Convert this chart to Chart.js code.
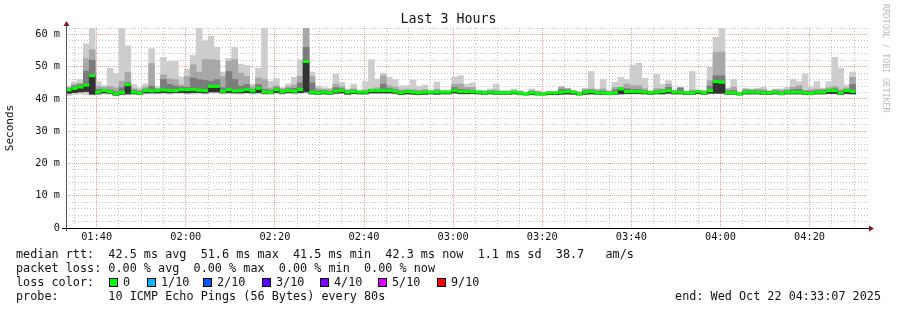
<!DOCTYPE html>
<html>
<head>
<meta charset="utf-8">
<title>Last 3 Hours</title>
<script src="https://cdn.jsdelivr.net/npm/chart.js@4.4.1/dist/chart.umd.min.js"></script>
<style>
  body { margin: 0; background: #fff; }
  #wrap { position: relative; width: 897px; height: 310px; font-family: "DejaVu Sans Mono", monospace; color: #111; }
  #chart { position: absolute; left: 0; top: 0; }
  #title { position: absolute; left: 0; top: 11px; width: 897px; text-align: center; font-size: 13.3px; line-height: 16px; }
  #rrd { position: absolute; left: 881px; top: 4px; writing-mode: vertical-rl; font-size: 8.2px; color: #bbb; }
  .line { position: absolute; left: 16px; font-size: 11.8px; line-height: 14px; white-space: pre; }
  .box { position: absolute; top: 278px; width: 7px; height: 7px; border: 1px solid #000; }
  .lbl { position: absolute; top: 275px; font-size: 11.8px; line-height: 14px; white-space: pre; }
</style>
</head>
<body>
<div id="wrap">
  <canvas id="chart" width="897" height="310"></canvas>
  <div id="title">Last 3 Hours</div>
  <div id="rrd">RRDTOOL / TOBI OETIKER</div>
  <div class="line" style="top:247px">median rtt:  42.5 ms avg  51.6 ms max  41.5 ms min  42.3 ms now  1.1 ms sd  38.7   am/s</div>
  <div class="line" style="top:261px">packet loss: 0.00 % avg  0.00 % max  0.00 % min  0.00 % now</div>
  <div class="line" style="top:275px">loss color:</div>
  <span class="box" style="left:109px;background:#00ff00"></span><span class="lbl" style="left:123px">0</span>
  <span class="box" style="left:147px;background:#00b8ff"></span><span class="lbl" style="left:161px">1/10</span>
  <span class="box" style="left:203px;background:#0059ff"></span><span class="lbl" style="left:217px">2/10</span>
  <span class="box" style="left:262px;background:#5e00ff"></span><span class="lbl" style="left:276px">3/10</span>
  <span class="box" style="left:320px;background:#7e00ff"></span><span class="lbl" style="left:334px">4/10</span>
  <span class="box" style="left:378px;background:#dd00ff"></span><span class="lbl" style="left:392px">5/10</span>
  <span class="box" style="left:437px;background:#ff0000"></span><span class="lbl" style="left:451px">9/10</span>
  <div class="line" style="top:289px">probe:       10 ICMP Echo Pings (56 Bytes) every 80s</div>
  <div class="line" style="top:289px;left:auto;right:16px">end: Wed Oct 22 04:33:07 2025</div>
</div>
<script>
// время в секундах от полуночи: окно 01:33:07 - 04:33:07, шаг 80 с
const startTime = 5587;
const endTime = 16387;
const firstBin = 5580;
const binStep = 80;

const tickLabels = ["01:40", "02:00", "02:20", "02:40", "03:00", "03:20", "03:40", "04:00", "04:20"];

// пинги в мс (10 пингов на интервал)
const minPing = [
  41.0, 41.3, 41.5, 41.3, 41.2, 41.2, 41.5, 41.4, 40.9, 41.2,
  41.3, 41.3, 41.2, 41.5, 41.5, 41.5, 41.6, 41.5, 41.6, 41.6,
  41.5, 41.5, 41.6, 41.5, 41.8, 41.8, 41.5, 41.6, 41.5, 41.5,
  41.6, 41.5, 41.6, 41.4, 41.4, 41.6, 41.4, 41.6, 41.5, 41.6,
  41.8, 41.4, 41.3, 41.4, 41.4, 41.5, 41.6, 41.3, 41.5, 41.4,
  41.4, 41.6, 41.6, 41.6, 41.6, 41.5, 41.2, 41.4, 41.3, 41.2,
  41.3, 41.4, 41.3, 41.4, 41.4, 41.6, 41.4, 41.4, 41.5, 41.4,
  41.3, 41.4, 41.3, 41.3, 41.3, 41.4, 41.2, 41.1, 41.2, 41.1,
  41.1, 41.2, 41.2, 41.3, 41.3, 41.3, 41.1, 41.3, 41.4, 41.3,
  41.3, 41.2, 41.3, 41.4, 41.5, 41.5, 41.5, 41.3, 41.3, 41.4,
  41.4, 41.5, 41.4, 41.4, 41.3, 41.3, 41.5, 41.3, 41.5, 41.6,
  41.6, 41.3, 41.3, 41.1, 41.4, 41.4, 41.4, 41.3, 41.3, 41.4,
  41.2, 41.4, 41.4, 41.4, 41.3, 41.2, 41.4, 41.4, 41.5, 41.5,
  41.2, 41.5, 41.4
];
const loPing = [
  41.8, 42.0, 42.2, 42.3, 41.5, 41.6, 41.9, 41.8, 41.2, 41.5,
  41.6, 41.6, 41.5, 41.9, 41.9, 41.9, 42.0, 41.9, 42.0, 42.0,
  41.9, 42.0, 42.0, 41.9, 42.2, 42.2, 41.9, 42.0, 41.9, 41.9,
  42.0, 41.9, 42.0, 41.8, 41.8, 42.0, 41.8, 42.0, 41.9, 42.0,
  42.2, 41.6, 41.5, 41.6, 41.5, 41.8, 41.9, 41.5, 41.7, 41.6,
  41.6, 41.9, 41.9, 41.9, 41.9, 41.8, 41.4, 41.6, 41.5, 41.4,
  41.5, 41.6, 41.5, 41.6, 41.6, 41.9, 41.7, 41.7, 41.7, 41.6,
  41.5, 41.6, 41.5, 41.5, 41.5, 41.6, 41.4, 41.3, 41.4, 41.3,
  41.3, 41.4, 41.4, 41.5, 41.6, 41.5, 41.3, 41.5, 41.6, 41.5,
  41.5, 41.4, 41.5, 41.6, 41.7, 41.7, 41.7, 41.6, 41.5, 41.6,
  41.6, 41.8, 41.6, 41.6, 41.5, 41.5, 41.7, 41.5, 41.8, 41.8,
  41.8, 41.5, 41.5, 41.3, 41.6, 41.6, 41.6, 41.5, 41.5, 41.6,
  41.4, 41.6, 41.6, 41.6, 41.5, 41.4, 41.6, 41.6, 41.7, 41.7,
  41.4, 41.7, 41.6
];
const medianRtt = [
  42.8, 43.3, 43.7, 44.3, 47.2, 42.1, 42.6, 42.3, 41.6, 42.0,
  44.4, 42.1, 41.8, 42.6, 42.5, 42.6, 42.8, 42.6, 42.6, 42.9,
  42.9, 42.9, 42.7, 42.6, 43.9, 43.9, 42.4, 42.9, 42.5, 42.6,
  42.9, 42.5, 43.3, 42.2, 42.1, 42.9, 42.3, 42.6, 42.4, 42.9,
  51.6, 42.1, 41.9, 42.1, 41.9, 42.4, 42.6, 42.1, 42.3, 42.1,
  42.1, 42.6, 42.6, 42.6, 42.6, 42.4, 41.9, 42.3, 42.1, 41.9,
  42.1, 42.1, 42.1, 42.1, 42.1, 42.6, 42.3, 42.3, 42.3, 42.1,
  41.9, 42.1, 41.9, 41.9, 41.9, 42.1, 41.8, 41.5, 41.9, 41.5,
  41.5, 41.9, 41.9, 42.1, 42.3, 42.1, 41.5, 42.1, 42.3, 41.9,
  41.9, 41.7, 41.9, 43.1, 42.3, 42.3, 42.3, 42.1, 41.9, 42.1,
  42.3, 42.6, 42.1, 42.1, 41.9, 41.9, 42.3, 41.9, 42.6, 45.4,
  45.2, 41.9, 41.9, 41.5, 42.1, 42.1, 42.1, 41.9, 41.9, 42.1,
  41.7, 42.1, 42.1, 42.1, 41.9, 41.7, 42.1, 42.1, 42.6, 42.6,
  41.8, 42.6, 42.3
];
const darkHi = [
  43.2, 44.0, 44.5, 48.6, 52.0, 43.0, 43.0, 42.8, 42.2, 43.5,
  45.0, 42.7, 42.3, 43.1, 44.0, 43.0, 46.0, 44.5, 44.0, 43.8,
  43.6, 46.5, 46.0, 45.8, 45.5, 46.0, 43.5, 48.5, 46.0, 44.0,
  44.5, 43.0, 44.5, 43.0, 42.7, 43.5, 42.8, 43.2, 43.3, 45.0,
  56.0, 45.0, 42.5, 42.6, 42.4, 43.5, 43.2, 42.5, 42.8, 42.3,
  42.4, 42.9, 43.0, 44.6, 43.2, 42.9, 42.4, 42.7, 42.5, 42.3,
  42.5, 42.3, 42.5, 42.3, 42.3, 43.6, 43.0, 42.9, 42.7, 42.3,
  42.2, 42.4, 42.3, 42.2, 42.1, 42.4, 42.1, 41.8, 42.3, 41.9,
  41.8, 42.0, 42.0, 43.0, 42.9, 42.3, 41.8, 42.6, 42.8, 42.4,
  42.5, 42.1, 42.8, 43.4, 43.2, 43.0, 43.0, 42.6, 42.2, 42.6,
  42.8, 43.6, 42.4, 43.3, 42.1, 42.4, 42.4, 42.2, 44.0, 47.2,
  47.2, 42.5, 42.6, 41.8, 42.6, 42.6, 42.6, 42.5, 42.2, 42.5,
  42.2, 42.6, 42.9, 43.0, 42.5, 42.3, 42.6, 42.6, 43.0, 43.2,
  42.4, 43.0, 44.5
];
const midHi = [
  43.6, 44.6, 44.8, 52.5, 55.3, 43.9, 43.6, 43.9, 43.4, 45.5,
  48.3, 43.2, 42.9, 43.7, 51.0, 43.3, 47.5, 46.2, 46.0, 44.3,
  47.0, 50.6, 48.3, 52.2, 52.2, 52.0, 47.0, 51.7, 52.2, 48.0,
  47.0, 43.8, 46.5, 46.0, 43.4, 44.1, 43.2, 43.8, 44.3, 47.0,
  62.0, 47.0, 43.2, 43.0, 42.9, 44.6, 43.8, 42.8, 43.1, 42.5,
  42.8, 43.1, 43.5, 47.2, 44.1, 43.6, 42.9, 43.0, 42.9, 42.7,
  42.9, 42.5, 43.0, 42.5, 42.5, 44.6, 44.6, 43.6, 43.6, 42.5,
  42.5, 42.8, 42.8, 42.4, 42.4, 42.6, 42.4, 42.0, 42.7, 42.3,
  42.0, 42.2, 42.2, 43.6, 43.2, 42.5, 42.1, 43.0, 43.1, 42.8,
  43.1, 42.4, 43.6, 43.6, 44.6, 44.1, 44.1, 43.2, 42.4, 43.2,
  43.1, 44.6, 42.6, 43.6, 42.3, 42.8, 42.5, 42.5, 45.7, 54.4,
  54.6, 43.0, 43.6, 42.1, 43.0, 42.9, 43.0, 42.9, 42.5, 42.9,
  42.8, 42.9, 43.6, 44.1, 42.6, 42.9, 43.1, 43.0, 43.5, 43.9,
  43.0, 43.4, 46.7
];
const maxPing = [
  43.9, 45.3, 46.0, 57.1, 62.0, 45.4, 44.2, 49.5, 48.0, 62.0,
  56.5, 44.5, 43.5, 44.7, 55.6, 43.8, 52.9, 51.6, 51.7, 46.8,
  49.3, 53.5, 62.0, 58.0, 59.5, 56.0, 48.3, 52.6, 56.0, 50.8,
  50.4, 44.6, 49.5, 62.0, 45.5, 46.3, 43.5, 44.7, 46.7, 52.2,
  62.0, 48.3, 43.9, 43.5, 43.3, 47.7, 45.2, 43.1, 44.6, 42.8,
  45.4, 52.2, 46.2, 48.0, 46.7, 46.0, 44.1, 44.1, 45.9, 43.9,
  44.3, 42.8, 45.2, 42.8, 42.8, 46.7, 47.2, 44.6, 45.0, 42.8,
  42.7, 43.1, 44.6, 42.6, 42.6, 43.1, 42.6, 42.2, 43.1, 42.6,
  42.2, 42.4, 42.4, 43.9, 43.3, 42.7, 42.3, 43.3, 48.5, 43.1,
  46.0, 42.6, 45.2, 46.7, 46.0, 50.5, 51.1, 46.4, 42.6, 47.7,
  44.6, 45.7, 42.7, 43.7, 42.4, 48.5, 42.8, 42.7, 49.8, 59.1,
  62.0, 43.3, 46.0, 42.2, 43.3, 43.1, 43.3, 43.6, 42.6, 43.1,
  43.1, 43.6, 46.0, 45.4, 47.7, 43.6, 45.4, 43.3, 45.4, 52.9,
  49.5, 44.3, 48.3
];

// середина каждого 80-секундного интервала
const binCenter = (i) => firstBin + i * binStep + binStep / 2;

function band(lo, hi) {
  return lo.map((v, i) => ({ x: binCenter(i), y: [v, hi[i]] }));
}

const medianPoints = medianRtt.map((v, i) => ({ x: binCenter(i), y: v }));

// линии сетки по X каждые 5 минут
const gridTimes = [];
for (let t = 5700; t < endTime; t += 300) gridTimes.push(t);

const majorGrid = "rgba(240, 120, 120, 0.75)";
const minorGrid = "rgba(150, 150, 150, 0.55)";

// оси со стрелками как в rrdtool
const axisArrows = {
  id: "axisArrows",
  afterDraw(chart) {
    const { ctx, chartArea: a } = chart;
    const yb = Math.round(a.bottom) + 0.5;
    const xl = Math.round(a.left) + 0.5;
    ctx.save();
    ctx.lineWidth = 1;
    ctx.strokeStyle = "#000";
    ctx.beginPath();
    ctx.moveTo(a.left - 4, yb);
    ctx.lineTo(a.right + 1, yb);
    ctx.stroke();
    ctx.strokeStyle = "#555";
    ctx.beginPath();
    ctx.moveTo(xl, a.bottom + 3);
    ctx.lineTo(xl, a.top - 3);
    ctx.stroke();
    ctx.fillStyle = "#8b1a1a";
    ctx.beginPath();
    ctx.moveTo(a.right + 1, yb - 3);
    ctx.lineTo(a.right + 6, yb);
    ctx.lineTo(a.right + 1, yb + 3);
    ctx.closePath();
    ctx.fill();
    ctx.beginPath();
    ctx.moveTo(xl - 3, a.top - 2);
    ctx.lineTo(xl, a.top - 7);
    ctx.lineTo(xl + 3, a.top - 2);
    ctx.closePath();
    ctx.fill();
    ctx.restore();
  },
};

function hhmm(v) {
  const idx = (v - 6000) / 1200;
  return Number.isInteger(idx) ? tickLabels[idx] || "" : "";
}

const monoTick = { family: "'DejaVu Sans Mono', monospace", size: 10.3 };

new Chart(document.getElementById("chart"), {
  type: "bar",
  data: {
    datasets: [
      {
        type: "line",
        label: "median",
        data: medianPoints,
        showLine: false,
        pointStyle: "line",
        pointRadius: 3,
        pointBorderWidth: 3,
        pointBorderColor: "#00ff00",
        pointBackgroundColor: "#00ff00",
        order: 0,
      },
      { label: "core", data: band(loPing, medianRtt), backgroundColor: "#333333", order: 1 },
      { label: "dark", data: band(loPing, darkHi), backgroundColor: "#7c7c7c", order: 2 },
      { label: "mid", data: band(loPing, midHi), backgroundColor: "#a8a8a8", order: 3 },
      { label: "light", data: band(minPing, maxPing), backgroundColor: "#cdcdcd", order: 4 },
    ],
  },
  options: {
    responsive: false,
    animation: false,
    events: [],
    layout: { padding: { left: 0, top: 28, right: 29, bottom: 68 } },
    datasets: {
      bar: { grouped: false, barPercentage: 1, categoryPercentage: 1, borderWidth: 0 },
    },
    plugins: { legend: { display: false }, tooltip: { enabled: false }, title: { display: false } },
    scales: {
      x: {
        type: "linear",
        min: startTime,
        max: endTime,
        offset: false,
        z: 1,
        afterBuildTicks: (scale) => {
          scale.ticks = gridTimes.map((v) => ({ value: v }));
        },
        afterFit: (scale) => {
          scale.height = 14;
        },
        ticks: {
          autoSkip: false,
          maxRotation: 0,
          padding: 3,
          color: "#111",
          font: monoTick,
          callback: (v) => hhmm(v),
        },
        grid: {
          offset: false,
          drawTicks: false,
          lineWidth: 1,
          color: (c) => (c.tick && c.tick.value % 1200 === 0 ? majorGrid : minorGrid),
        },
        border: {
          display: false,
          dash: (c) => (c.tick && c.tick.value % 1200 === 0 ? [1, 1] : [1, 2]),
        },
      },
      y: {
        min: 0,
        max: 62,
        z: 1,
        afterFit: (scale) => {
          scale.width = 66;
        },
        title: {
          display: true,
          text: "Seconds",
          color: "#111",
          padding: { top: 4, bottom: 0 },
          font: { family: "'DejaVu Sans Mono', monospace", size: 11 },
        },
        ticks: {
          stepSize: 2,
          autoSkip: false,
          padding: 6,
          color: "#111",
          font: monoTick,
          callback: (v) => (v % 10 === 0 ? (v === 0 ? "0" : v + " m") : ""),
        },
        grid: {
          drawTicks: false,
          lineWidth: 1,
          color: (c) => (c.tick && c.tick.value % 10 === 0 ? majorGrid : minorGrid),
        },
        border: {
          display: false,
          dash: (c) => (c.tick && c.tick.value % 10 === 0 ? [1, 1] : [1, 2]),
        },
      },
    },
  },
  plugins: [axisArrows],
});
</script>
</body>
</html>
